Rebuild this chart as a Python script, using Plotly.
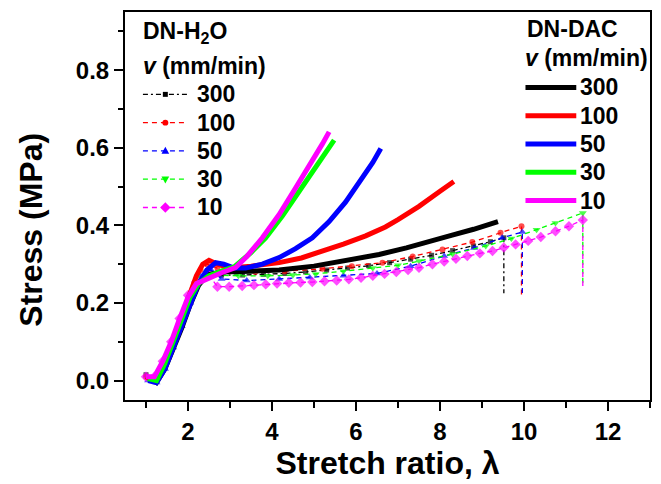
import plotly.graph_objects as go

# ---------------- data ----------------
speeds = ["300", "100", "50", "30", "10"]
colors = ["#000000", "#FF0000", "#0000FF", "#00FF00", "#FF00FF"]

# DN-DAC (thick solid lines)
dac_300_x = [1.05, 1.25, 1.45, 1.65, 1.85, 2.05, 2.25, 2.45, 2.8, 3.5, 4.17, 5.0, 5.8, 6.55, 7.2, 7.74, 8.29, 8.8, 9.38]
dac_300_y = [0.01, -0.005, 0.03, 0.08, 0.135, 0.195, 0.245, 0.272, 0.28, 0.282, 0.285, 0.295, 0.31, 0.325, 0.342, 0.357, 0.375, 0.39, 0.41]
dac_100_x = [1.0, 1.2, 1.4, 1.6, 1.8, 2.0, 2.2, 2.35, 2.5, 2.7, 3.0, 3.5, 4.17, 4.7, 5.2, 5.7, 6.23, 6.7, 7.0, 7.5, 8.0, 8.33]
dac_100_y = [0.01, 0.0, 0.04, 0.09, 0.15, 0.21, 0.27, 0.30, 0.31, 0.30, 0.29, 0.295, 0.304, 0.316, 0.333, 0.352, 0.373, 0.396, 0.415, 0.449, 0.488, 0.513]
dac_50_x = [1.05, 1.25, 1.45, 1.65, 1.85, 2.05, 2.25, 2.45, 2.66, 2.85, 3.1, 3.37, 3.77, 4.17, 4.56, 4.96, 5.36, 5.75, 6.15, 6.4, 6.59]
dac_50_y = [0.0, -0.005, 0.03, 0.085, 0.14, 0.20, 0.25, 0.285, 0.304, 0.30, 0.29, 0.29, 0.30, 0.317, 0.34, 0.368, 0.41, 0.46, 0.522, 0.562, 0.598]
dac_30_x = [1.05, 1.25, 1.45, 1.65, 1.85, 2.05, 2.25, 2.5, 2.8, 3.1, 3.5, 3.85, 4.25, 4.65, 5.05, 5.3, 5.48]
dac_30_y = [0.005, 0.0, 0.045, 0.10, 0.16, 0.215, 0.25, 0.27, 0.282, 0.293, 0.33, 0.368, 0.425, 0.49, 0.555, 0.59, 0.62]
dac_10_x = [1.0, 1.2, 1.4, 1.6, 1.8, 2.0, 2.2, 2.5, 2.8, 3.13, 3.4, 3.77, 4.17, 4.56, 4.96, 5.2, 5.36]
dac_10_y = [0.01, 0.01, 0.05, 0.10, 0.16, 0.215, 0.25, 0.265, 0.278, 0.291, 0.32, 0.368, 0.428, 0.496, 0.564, 0.61, 0.641]

# DN-H2O (thin dashed lines with markers)
h2o_300_x = [1.0, 1.2, 1.4, 1.6, 1.8, 2.0, 2.2, 2.4, 2.8, 3.3, 3.8, 4.3, 4.8, 5.3, 5.8, 6.3, 6.8, 7.3, 7.8, 8.3, 8.8, 9.2, 9.52, 9.52]
h2o_300_y = [0.015, 0.0, 0.035, 0.085, 0.14, 0.2, 0.245, 0.27, 0.272, 0.272, 0.274, 0.276, 0.28, 0.285, 0.29, 0.296, 0.304, 0.313, 0.323, 0.335, 0.347, 0.358, 0.368, 0.225]
h2o_100_x = [1.0, 1.2, 1.4, 1.6, 1.8, 2.0, 2.15, 2.3, 2.45, 2.7, 3.0, 3.6, 4.3, 5.2, 5.9, 6.63, 7.35, 8.06, 8.77, 9.44, 9.94, 9.94]
h2o_100_y = [0.01, 0.0, 0.04, 0.09, 0.15, 0.21, 0.25, 0.285, 0.30, 0.29, 0.282, 0.28, 0.282, 0.288, 0.295, 0.304, 0.32, 0.338, 0.357, 0.381, 0.398, 0.22]
h2o_50_x = [1.05, 1.25, 1.45, 1.65, 1.85, 2.05, 2.3, 2.55, 2.8, 3.4, 4.17, 4.9, 5.7, 6.5, 7.3, 8.1, 8.81, 9.48, 9.96, 9.96]
h2o_50_y = [0.0, -0.005, 0.03, 0.085, 0.14, 0.2, 0.27, 0.285, 0.262, 0.258, 0.262, 0.266, 0.27, 0.276, 0.295, 0.321, 0.342, 0.368, 0.383, 0.22]
h2o_30_x = [1.05, 1.25, 1.45, 1.65, 1.85, 2.05, 2.3, 2.6, 3.2, 3.9, 4.5, 5.04, 5.7, 6.4, 7.0, 7.5, 8.3, 9.09, 9.7, 10.3, 10.75, 11.4, 11.4]
h2o_30_y = [0.005, 0.0, 0.045, 0.10, 0.16, 0.215, 0.265, 0.272, 0.27, 0.27, 0.272, 0.275, 0.282, 0.29, 0.297, 0.308, 0.326, 0.347, 0.366, 0.389, 0.406, 0.432, 0.245]
h2o_10_x = [1.0, 1.2, 1.4, 1.6, 1.8, 2.0, 2.2, 2.5, 2.7, 2.98, 3.29, 3.57, 3.85, 4.12, 4.4, 4.68, 4.96, 5.25, 5.54, 5.83, 6.12, 6.4, 6.68, 6.96, 7.24, 7.5, 7.82, 8.1, 8.38, 8.65, 8.95, 9.25, 9.52, 9.8, 10.1, 10.4, 10.75, 11.07, 11.4, 11.4]
h2o_10_y = [0.01, 0.01, 0.05, 0.10, 0.16, 0.22, 0.255, 0.272, 0.242, 0.242, 0.244, 0.246, 0.248, 0.25, 0.252, 0.253, 0.254, 0.256, 0.258, 0.261, 0.265, 0.27, 0.275, 0.28, 0.285, 0.291, 0.30, 0.307, 0.314, 0.321, 0.328, 0.334, 0.343, 0.351, 0.36, 0.37, 0.385, 0.398, 0.414, 0.243]

x_ticks = [2, 4, 6, 8, 10, 12]
y_ticks = [0.0, 0.2, 0.4, 0.6, 0.8]

dac_series = [(dac_300_x, dac_300_y), (dac_100_x, dac_100_y), (dac_50_x, dac_50_y),
              (dac_30_x, dac_30_y), (dac_10_x, dac_10_y)]
h2o_series = [(h2o_300_x, h2o_300_y), (h2o_100_x, h2o_100_y), (h2o_50_x, h2o_50_y),
              (h2o_30_x, h2o_30_y), (h2o_10_x, h2o_10_y)]

# ---------------- styling ----------------
FONT = "Arial, Liberation Sans, Helvetica, sans-serif"
W, H = 661, 484
ML, MR, MT, MB = 125, 9, 12, 81
h2o_dash = ["5px,3px,2px,3px", "5px,4px", "5px,4px", "5px,4px", "5px,4px"]
h2o_symbol = ["square", "circle", "triangle-up", "triangle-down", "diamond"]
h2o_msize = [5, 6, 7, 7, 8]
LEG_FONT = 23

fig = go.Figure()

for i, (xs, ys) in enumerate(h2o_series):
    sizes = [h2o_msize[i]] * (len(xs) - 1) + [0]
    fig.add_trace(go.Scatter(
        x=xs, y=ys, mode="lines+markers", name="DN-H2O " + speeds[i], showlegend=False,
        line=dict(color=colors[i], width=1.3, dash=h2o_dash[i]),
        marker=dict(symbol=h2o_symbol[i], size=sizes, color=colors[i], line=dict(width=0)),
    ))

for i, (xs, ys) in enumerate(dac_series):
    fig.add_trace(go.Scatter(
        x=xs, y=ys, mode="lines", name="DN-DAC " + speeds[i], showlegend=False,
        line=dict(color=colors[i], width=5),
    ))

# ---------------- hand-built legends (layout only) ----------------
pw, ph = W - ML - MR, H - MT - MB


def pxx(v):
    return (v - ML) / pw


def pxy(v):
    return (H - MB - v) / ph


def marker_path(sym, cx, cy, r):
    if sym == "square":
        pts = [(cx - r, cy - r), (cx + r, cy - r), (cx + r, cy + r), (cx - r, cy + r)]
    elif sym == "triangle-up":
        pts = [(cx, cy - r * 1.2), (cx + r * 1.1, cy + r * 0.8), (cx - r * 1.1, cy + r * 0.8)]
    elif sym == "triangle-down":
        pts = [(cx, cy + r * 1.2), (cx + r * 1.1, cy - r * 0.8), (cx - r * 1.1, cy - r * 0.8)]
    elif sym == "diamond":
        pts = [(cx, cy - r * 1.3), (cx + r * 1.3, cy), (cx, cy + r * 1.3), (cx - r * 1.3, cy)]
    else:
        pts = None
    if pts is None:
        return None
    return "M " + " L ".join("%.5f,%.5f" % (pxx(a), pxy(b)) for a, b in pts) + " Z"


shapes = []
annotations = []

legend_font = dict(family=FONT, size=LEG_FONT, color="black", weight="bold")


def add_text(text, x_left, y_mid):
    annotations.append(dict(text=text, xref="paper", yref="paper", x=pxx(x_left), y=pxy(y_mid),
                            xanchor="left", yanchor="middle", showarrow=False, font=legend_font,
                            borderpad=0))


# left legend: DN-H2O
add_text("DN-H<sub>2</sub>O", 142, 33)
add_text("<i>v</i> (mm/min)", 142, 66)
left_rows = [95, 123.5, 152, 180.5, 209]
for i, yy in enumerate(left_rows):
    shapes.append(dict(type="line", xref="paper", yref="paper",
                       x0=pxx(143), x1=pxx(188), y0=pxy(yy), y1=pxy(yy),
                       line=dict(color=colors[i], width=1.3, dash=h2o_dash[i])))
    r = h2o_msize[i] / 2
    if h2o_symbol[i] == "circle":
        shapes.append(dict(type="circle", xref="paper", yref="paper",
                           x0=pxx(165.5 - r), x1=pxx(165.5 + r), y0=pxy(yy - r), y1=pxy(yy + r),
                           fillcolor=colors[i], line=dict(width=0)))
    else:
        shapes.append(dict(type="path", xref="paper", yref="paper",
                           path=marker_path(h2o_symbol[i], 165.5, yy, r),
                           fillcolor=colors[i], line=dict(width=0)))
    add_text(speeds[i], 196, yy)

# right legend: DN-DAC
add_text("DN-DAC", 528, 29)
add_text("<i>v</i> (mm/min)", 526, 58)
right_rows = [88, 116.5, 145, 173.5, 202]
for i, yy in enumerate(right_rows):
    shapes.append(dict(type="line", xref="paper", yref="paper",
                       x0=pxx(527), x1=pxx(578), y0=pxy(yy), y1=pxy(yy),
                       line=dict(color=colors[i], width=5)))
    add_text(speeds[i], 581, yy)

# y-axis title (offset downward like the reference)
annotations.append(dict(
    text="Stress (MPa)", textangle=-90, xref="paper", yref="paper",
    x=pxx(31), y=pxy(231), xanchor="center", yanchor="middle", showarrow=False,
    font=dict(family=FONT, size=32, color="black", weight="bold"),
))

fig.update_layout(
    width=W, height=H,
    margin=dict(l=ML, r=MR, t=MT, b=MB),
    paper_bgcolor="white", plot_bgcolor="white",
    font=dict(family=FONT, color="black"),
    showlegend=False,
    xaxis=dict(
        range=[0.5, 13], tickvals=x_ticks, ticktext=[str(v) for v in x_ticks],
        ticks="outside", ticklen=9, tickwidth=2, tickcolor="black",
        minor=dict(tickvals=[1, 3, 5, 7, 9, 11, 13], ticks="outside", ticklen=6, tickwidth=2, tickcolor="black"),
        showline=True, linewidth=2, linecolor="black", mirror=True,
        showgrid=False, zeroline=False,
        tickfont=dict(family=FONT, size=24, color="black", weight="bold"),
        title=dict(text="Stretch ratio, λ", standoff=8,
                   font=dict(family=FONT, size=32, color="black", weight="bold")),
    ),
    yaxis=dict(
        range=[-0.05, 0.95], tickvals=y_ticks, ticktext=["%.1f" % v for v in y_ticks],
        ticks="outside", ticklen=9, tickwidth=2, tickcolor="black",
        minor=dict(tickvals=[0.1, 0.3, 0.5, 0.7, 0.9], ticks="outside", ticklen=5, tickwidth=2, tickcolor="black"),
        showline=True, linewidth=2, linecolor="black", mirror=True,
        showgrid=False, zeroline=False,
        tickfont=dict(family=FONT, size=24, color="black", weight="bold"),
    ),
    shapes=shapes,
    annotations=annotations,
)

fig.write_html("out.html")
